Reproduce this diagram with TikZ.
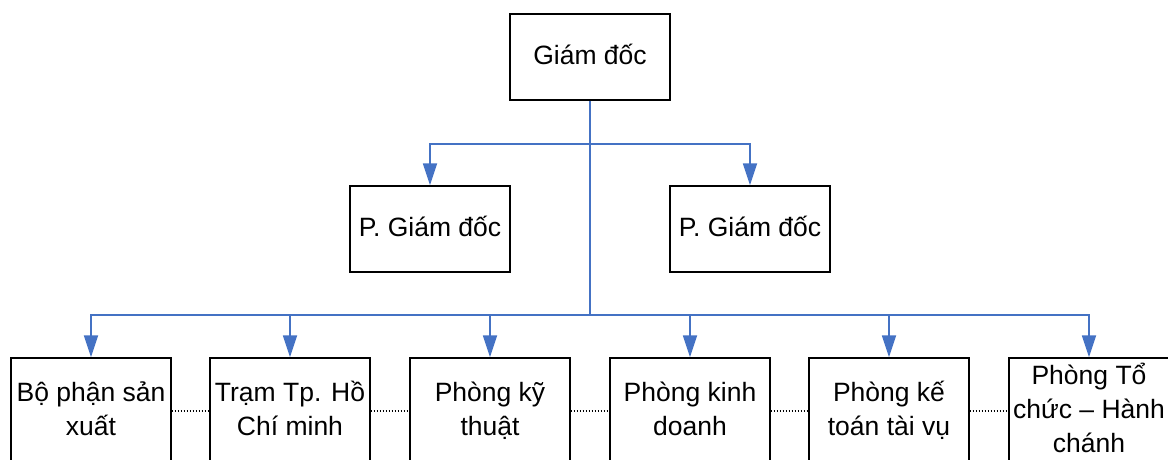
\documentclass[tikz,border=0pt]{standalone}
\usepackage{fontspec}
\setmainfont{Liberation Sans}
\usetikzlibrary{arrows.meta}
\definecolor{lineblue}{HTML}{4472C4}
\newcommand\mystrut{\rule[-10pt]{0pt}{34pt}}
\tikzset{
  box/.style={draw=black, line width=1.4pt, minimum width=160pt, minimum height=86pt, inner sep=0pt,
    font=\fontsize{26.5}{34}\selectfont, align=center},
  bbox/.style={draw=black, line width=1.4pt, minimum width=160pt, minimum height=106pt, inner sep=0pt},
  btext/.style={inner sep=0pt, font=\fontsize{26.5}{34}\selectfont, align=center},
  conn/.style={draw=lineblue, line width=1.8pt},
  arr/.style={conn, -{Triangle[length=22pt,width=14pt]}},
  dotl/.style={draw=black, line width=1.2pt, dash pattern=on 1.5pt off 1.5pt},
}
\newcommand\botbox[3]{%
  \node[bbox] (#1) at (#2,411) {};
  \begin{scope}
    \clip ([xshift=6pt]#1.south west) rectangle ([xshift=-6pt]#1.north east);
    \node[btext] (#1t) at (#1.center) {#3};
  \end{scope}}
\begin{document}
\begin{tikzpicture}[x=1pt,y=-1pt]
\useasboundingbox (0,0) rectangle (1168,459);
\node[box] (gd) at (590,57) {\mystrut Giám đốc};
\node[box] (pg1) at (430,229) {\mystrut P. Giám đốc};
\node[box] (pg2) at (750,229) {\mystrut P. Giám đốc};
\botbox{b1}{91}{\mystrut Bộ phận sản\\\mystrut xuất}
\botbox{b2}{290}{\mystrut Trạm Tp. Hồ\\\mystrut Chí minh}
\botbox{b3}{490}{\mystrut Phòng kỹ\\\mystrut thuật}
\botbox{b4}{690}{\mystrut Phòng kinh\\\mystrut doanh}
\botbox{b5}{889}{\mystrut Phòng kế\\\mystrut toán tài vụ}
\botbox{b6}{1089}{\mystrut Phòng Tổ\\\mystrut chức -- Hành\\\mystrut chánh}
\coordinate (busA) at (590,144);
\coordinate (busB) at (590,315);
\draw[conn] (gd.south) -- (busB);
\draw[arr] (busA) -| (pg1.north);
\draw[arr] (busA) -| (pg2.north);
\foreach \b in {b1,b2,b3,b4,b5,b6}{\draw[arr] (busB) -| (\b.north);}
\draw[dotl] (b1.east) -- (b2.west);
\draw[dotl] (b2.east) -- (b3.west);
\draw[dotl] (b3.east) -- (b4.west);
\draw[dotl] (b4.east) -- (b5.west);
\draw[dotl] (b5.east) -- (b6.west);
\end{tikzpicture}
\end{document}
